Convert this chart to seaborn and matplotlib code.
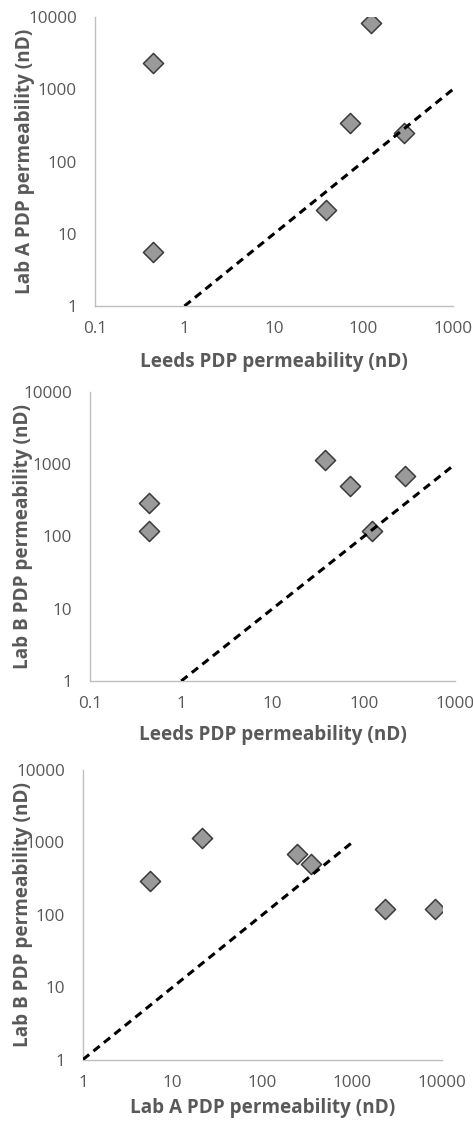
import numpy as np
import pandas as pd
import matplotlib
matplotlib.use("Agg")
import matplotlib.pyplot as plt
import seaborn as sns
from matplotlib.ticker import FixedLocator, FixedFormatter, NullLocator

# Pulse-decay permeability of the same six samples, measured by three labs (nD)
leeds = [0.44, 0.44, 38, 71, 122, 285]
lab_a = [2290, 5.6, 21, 345, 8300, 245]
lab_b = [120, 290, 1150, 495, 120, 690]

# 1:1 reference line end points
one_to_one = [1, 1000]

ticks_leeds = [0.1, 1, 10, 100, 1000]
ticklabels_leeds = ["0.1", "1", "10", "100", "1000"]
ticks_lab = [1, 10, 100, 1000, 10000]
ticklabels_lab = ["1", "10", "100", "1000", "10000"]

label_leeds = "Leeds PDP permeability (nD)"
label_a = "Lab A PDP permeability (nD)"
label_b = "Lab B PDP permeability (nD)"

sns.set_style("white")
plt.rcParams["font.family"] = ["Open Sans", "DejaVu Sans"]

W, H = 473, 1126
fig = plt.figure(figsize=(W / 100, H / 100), dpi=100)

TEXT = "#595959"
SPINE = "#bfbfbf"


def add_axes(left, right, top, bottom):
    return fig.add_axes([left / W, 1 - bottom / H, (right - left) / W, (bottom - top) / H])


panels = [
    dict(box=(95, 453, 17, 306), x=leeds, y=lab_a, xt=(ticks_leeds, ticklabels_leeds),
         xl=label_leeds, yl=label_a, ylab_x=25, xlab_y=362),
    dict(box=(90, 455, 392, 681), x=leeds, y=lab_b, xt=(ticks_leeds, ticklabels_leeds),
         xl=label_leeds, yl=label_b, ylab_x=23, xlab_y=735),
    dict(box=(83, 442, 770, 1059.5), x=lab_a, y=lab_b, xt=(ticks_lab, ticklabels_lab),
         xl=label_a, yl=label_b, ylab_x=23, xlab_y=1108),
]

for p in panels:
    left, right, top, bottom = p["box"]
    ax = add_axes(left, right, top, bottom)
    df = pd.DataFrame({"x": p["x"], "y": p["y"]})
    sns.scatterplot(data=df, x="x", y="y", ax=ax, marker="D", s=105,
                    color="#9a9a9a", edgecolor="#3a3a3a", linewidth=1.1, zorder=3)
    ref = pd.DataFrame({"x": one_to_one, "y": one_to_one})
    sns.lineplot(data=ref, x="x", y="y", ax=ax, color="black", linewidth=2.2,
                 dashes=False, zorder=4)
    ax.lines[-1].set_dashes([2.6, 1.8])
    ax.set_xscale("log")
    ax.set_yscale("log")
    xt, xtl = p["xt"]
    ax.set_xlim(xt[0], xt[-1])
    ax.set_ylim(ticks_lab[0], ticks_lab[-1])
    ax.xaxis.set_major_locator(FixedLocator(xt))
    ax.xaxis.set_major_formatter(FixedFormatter(xtl))
    ax.yaxis.set_major_locator(FixedLocator(ticks_lab))
    ax.yaxis.set_major_formatter(FixedFormatter(ticklabels_lab))
    ax.xaxis.set_minor_locator(NullLocator())
    ax.yaxis.set_minor_locator(NullLocator())
    ax.tick_params(axis="both", which="both", length=0, labelsize=12.3, labelcolor=TEXT)
    ax.tick_params(axis="x", pad=11)
    ax.tick_params(axis="y", pad=13)
    for s in ["top", "right"]:
        ax.spines[s].set_visible(False)
    for s in ["left", "bottom"]:
        ax.spines[s].set_color(SPINE)
        ax.spines[s].set_linewidth(1.0)
    ax.set_xlabel(p["xl"], fontsize=13.6, fontweight="bold", color=TEXT)
    ax.set_ylabel(p["yl"], fontsize=13.6, fontweight="bold", color=TEXT)
    ax.xaxis.set_label_coords(0.5, (bottom - p["xlab_y"]) / (bottom - top))
    ax.xaxis.label.set_va("center")
    ax.yaxis.set_label_coords((p["ylab_x"] - left) / (right - left), 0.5)
    ax.yaxis.label.set_va("center")
    for lab in ax.get_xticklabels() + ax.get_yticklabels():
        lab.set_clip_on(False)

fig.savefig("out.png", dpi=100)
